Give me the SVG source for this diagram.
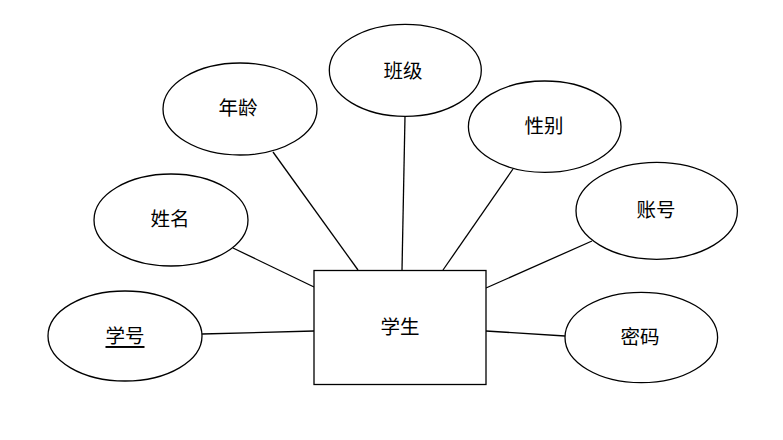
<svg xmlns="http://www.w3.org/2000/svg" width="783" height="440" viewBox="0 0 783 440">
<style>
.shape{fill:#ffffff;stroke:#000000;stroke-width:1.3}
.edge{stroke:#000000;stroke-width:1.3;fill:none}
.lbl{font-family:"Liberation Sans","Noto Sans CJK SC",sans-serif;font-size:19.5px;fill:#000000;text-anchor:middle;dominant-baseline:central}
</style>
<rect width="783" height="440" fill="#ffffff"/>
<g id="connectors">
<line class="edge" x1="202" y1="334" x2="314" y2="331"/>
<line class="edge" x1="233" y1="248" x2="314" y2="287"/>
<line class="edge" x1="273" y1="152" x2="358" y2="270"/>
<line class="edge" x1="405" y1="116" x2="402" y2="270"/>
<line class="edge" x1="513" y1="169" x2="443" y2="270"/>
<line class="edge" x1="592" y1="241" x2="486" y2="288"/>
<line class="edge" x1="486" y1="331" x2="565" y2="336"/>
</g>
<g id="student">
<rect class="shape" x="314" y="270.5" width="172" height="114"/>
<text class="lbl" x="400" y="327">学生</text>
</g>
<g id="xuehao">
<ellipse class="shape" cx="125" cy="336" rx="77" ry="45"/>
<text class="lbl" x="125" y="336" text-decoration="underline">学号</text>
</g>
<g id="xingming">
<ellipse class="shape" cx="171" cy="220" rx="77" ry="46"/>
<text class="lbl" x="170" y="219">姓名</text>
</g>
<g id="nianling">
<ellipse class="shape" cx="240" cy="109" rx="77" ry="46"/>
<text class="lbl" x="238" y="107.5">年龄</text>
</g>
<g id="banji">
<ellipse class="shape" cx="405.3" cy="70.3" rx="76" ry="46"/>
<text class="lbl" x="403" y="71">班级</text>
</g>
<g id="xingbie">
<ellipse class="shape" cx="544.7" cy="126.7" rx="76.3" ry="45.7"/>
<text class="lbl" x="544" y="126">性别</text>
</g>
<g id="zhanghao">
<ellipse class="shape" cx="656.7" cy="210.8" rx="80.7" ry="48.5"/>
<text class="lbl" x="656" y="209.6">账号</text>
</g>
<g id="mima">
<ellipse class="shape" cx="641.3" cy="337.5" rx="76.3" ry="45.2"/>
<text class="lbl" x="640" y="337">密码</text>
</g>
</svg>
